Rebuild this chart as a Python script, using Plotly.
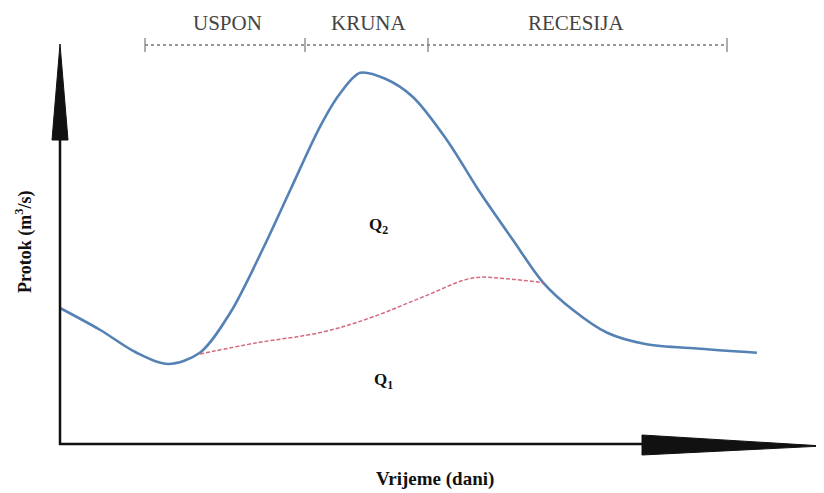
import plotly.graph_objects as go

# Hydrograph (conceptual) - time in days, discharge in arbitrary units
time_total = [0, 5.3, 9.9, 14.2, 18.4, 22.4, 26.7, 30.3, 34.2, 36.8, 39.5, 42.8,
              46.4, 50.9, 55.3, 59.6, 63.6, 67.5, 72.0, 77.0, 84.2, 91.7]
flow_total = [34.0, 28.5, 23.0, 20.0, 22.8, 32.8, 48.8, 63.5, 79.3, 87.5, 92.8, 91.3,
              86.8, 76.0, 62.8, 51.0, 40.3, 33.5, 27.8, 25.0, 23.8, 22.8]

time_base = [18.4, 25.9, 34.6, 41.2, 47.8, 54.3, 58.8, 63.6]
flow_base = [22.5, 25.3, 28.0, 31.8, 36.8, 41.5, 41.3, 40.3]

phase_labels = ["USPON", "KRUNA", "RECESIJA"]
x_title = "Vrijeme (dani)"
y_title = "Protok (m<sup>3</sup>/s)"

OFF = 8            # page body margin
W, H = 824 - OFF, 493 - OFF
XS, X0 = 7.6, 60   # px per day, origin px (in page coordinates)
YS, Y0 = 4.0, 444  # px per unit, origin px (in page coordinates)


def px(x):
    return (x - OFF) / W


def py(y):
    return 1 - (y - OFF) / H


fig = go.Figure()
fig.add_trace(go.Scatter(x=time_total, y=flow_total, mode="lines",
                         line=dict(color="#5581b5", width=2.6, shape="spline", smoothing=0.9),
                         hoverinfo="skip", showlegend=False))
fig.add_trace(go.Scatter(x=time_base, y=flow_base, mode="lines",
                         line=dict(color="#d46a7e", width=1.5, dash="4px,2px", shape="spline", smoothing=1.0),
                         hoverinfo="skip", showlegend=False))

shapes = []
ax_col = "#111111"
# y axis line + arrow
shapes.append(dict(type="line", xref="paper", yref="paper", x0=px(60), x1=px(60), y0=py(445), y1=py(130),
                   line=dict(color=ax_col, width=2.5)))
shapes.append(dict(type="path", xref="paper", yref="paper",
                   path=f"M {px(52)} {py(140)} L {px(68)} {py(140)} L {px(60)} {py(44)} Z",
                   fillcolor=ax_col, line=dict(color=ax_col, width=1)))
# x axis line + arrow
shapes.append(dict(type="line", xref="paper", yref="paper", x0=px(59), x1=px(650), y0=py(444), y1=py(444),
                   line=dict(color=ax_col, width=2.5)))
shapes.append(dict(type="path", xref="paper", yref="paper",
                   path=f"M {px(642)} {py(435)} L {px(642)} {py(455)} L {px(823)} {py(446)} Z",
                   fillcolor=ax_col, line=dict(color=ax_col, width=1)))
# phase dotted line and ticks
shapes.append(dict(type="line", xref="paper", yref="paper", x0=px(145), x1=px(727), y0=py(45), y1=py(45),
                   line=dict(color="#777777", width=1.5, dash="dot")))
for tx in [145, 305, 428, 727]:
    shapes.append(dict(type="line", xref="paper", yref="paper", x0=px(tx), x1=px(tx), y0=py(38), y1=py(52),
                       line=dict(color="#777777", width=1.2)))

annotations = []
serif = "Liberation Serif, Times New Roman, serif"
for lab, lx in zip(phase_labels, [227, 369, 576]):
    annotations.append(dict(text=lab, x=px(lx), y=py(23), xref="paper", yref="paper", showarrow=False,
                            xanchor="center", yanchor="middle",
                            font=dict(family=serif, size=21, color="#444444")))
annotations.append(dict(text="<b>Q<sub>2</sub></b>", x=px(378), y=py(226), xref="paper", yref="paper",
                        showarrow=False, xanchor="center", yanchor="middle",
                        font=dict(family=serif, size=17, color="#111111")))
annotations.append(dict(text="<b>Q<sub>1</sub></b>", x=px(383), y=py(381), xref="paper", yref="paper",
                        showarrow=False, xanchor="center", yanchor="middle",
                        font=dict(family=serif, size=17, color="#111111")))
annotations.append(dict(text="<b>" + x_title + "</b>", x=px(435), y=py(479), xref="paper", yref="paper",
                        showarrow=False, xanchor="center", yanchor="middle",
                        font=dict(family=serif, size=19, color="#111111")))
annotations.append(dict(text="<b>" + y_title + "</b>", x=px(24), y=py(242), xref="paper", yref="paper",
                        showarrow=False, textangle=-90, xanchor="center", yanchor="middle",
                        font=dict(family=serif, size=18, color="#111111")))

fig.update_layout(
    width=W, height=H, margin=dict(l=0, r=0, t=0, b=0),
    paper_bgcolor="white", plot_bgcolor="white",
    xaxis=dict(range=[(OFF - X0) / XS, (824 - X0) / XS], visible=False, fixedrange=True),
    yaxis=dict(range=[(Y0 - 493) / YS, (Y0 - OFF) / YS], visible=False, fixedrange=True),
    shapes=shapes, annotations=annotations,
)

fig.write_html("out.html")
